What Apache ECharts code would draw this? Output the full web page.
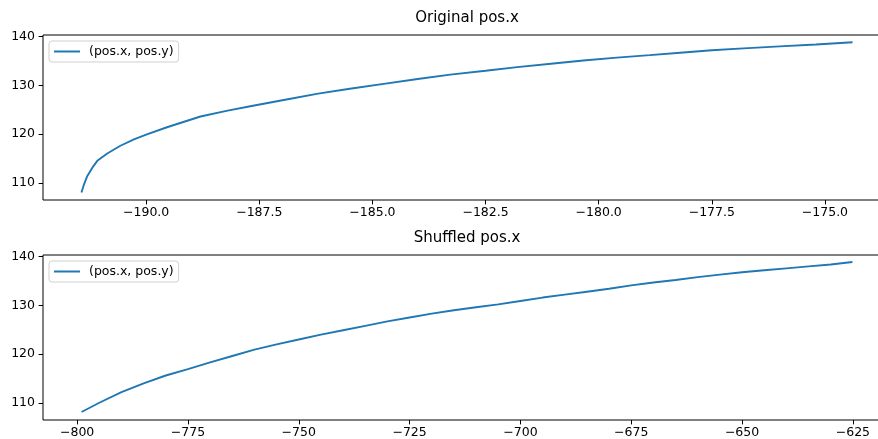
<!DOCTYPE html>
<html>
<head>
<meta charset="utf-8">
<script src="https://cdn.jsdelivr.net/npm/echarts@6/dist/echarts.min.js"></script>
<style>
  html, body { margin: 0; padding: 0; background: #fff; }
  #chart { width: 878px; height: 439px; }
</style>
</head>
<body>
<div id="chart"></div>
<script>
// data
var seriesName = '(pos.x, pos.y)';

var origX = [-191.43, -191.38, -191.30, -191.19, -191.08, -190.86, -190.57, -190.27, -190.0, -189.54,
             -188.80, -188.2, -187.7, -186.9, -186.2, -185.5, -184.75, -184.0, -183.28, -182.5,
             -181.8, -181.0, -180.34, -179.6, -178.87, -178.2, -177.5, -176.8, -176.0, -175.2, -174.39];
var origY = [108.0, 109.5, 111.4, 113.1, 114.5, 116.0, 117.6, 118.9, 119.9, 121.4,
             123.6, 124.8, 125.7, 127.1, 128.3, 129.3, 130.3, 131.3, 132.2, 133.0,
             133.75, 134.5, 135.1, 135.7, 136.2, 136.7, 137.2, 137.6, 138.0, 138.4, 138.85];

var shufX = [-799.0, -795, -790, -785, -780, -775, -770, -765, -760, -755, -750, -745, -740, -735,
             -730, -725, -720, -715, -710, -705, -700, -695, -690, -685, -680, -675, -670, -665,
             -660, -655, -650, -645, -640, -635, -630, -625.1];
var shufY = [108.1, 110.0, 112.2, 114.0, 115.6, 116.9, 118.3, 119.6, 120.9, 122.0, 123.0, 124.0, 124.9, 125.8,
             126.7, 127.5, 128.3, 129.0, 129.6, 130.2, 130.9, 131.6, 132.2, 132.8, 133.4, 134.1, 134.7, 135.2,
             135.8, 136.3, 136.8, 137.2, 137.6, 138.0, 138.4, 138.9];

var origTicks = [-190, -187.5, -185, -182.5, -180, -177.5, -175];
var shufTicks = [-800, -775, -750, -725, -700, -675, -650, -625];
var yTicks = [110, 120, 130, 140];

function pairs(xs, ys) {
  return xs.map(function (x, i) { return [x, ys[i]]; });
}
function minus(s) { return String(s).replace('-', '\u2212'); }

var font = 'DejaVu Sans';

function xAxis(idx, lo, hi, ticks, dec) {
  return {
    type: 'value', gridIndex: idx, min: lo, max: hi,
    axisLine: { show: false },
    splitLine: { show: false },
    axisTick: { show: true, customValues: ticks, length: 4.4, lineStyle: { color: '#000', width: 1 } },
    axisLabel: {
      customValues: ticks, margin: 6, color: '#000', fontSize: 12.5, fontFamily: font,
      formatter: function (v) { return minus(v.toFixed(dec)); }
    }
  };
}
function yAxis(idx) {
  return {
    type: 'value', gridIndex: idx, min: 106.46, max: 140.34,
    axisLine: { show: false },
    splitLine: { show: false },
    axisTick: { show: true, customValues: yTicks, length: 4.4, lineStyle: { color: '#000', width: 1 } },
    axisLabel: { customValues: yTicks, margin: 8, color: '#000', fontSize: 12.5, fontFamily: font }
  };
}
function legend(top) {
  return {
    data: [seriesName], left: 49, top: top, orient: 'vertical',
    icon: 'rect', itemWidth: 26, itemHeight: 2,
    padding: [4, 5, 4, 5],
    backgroundColor: 'rgba(255,255,255,0.8)',
    borderColor: '#d0d0d0', borderWidth: 1, borderRadius: 3,
    textStyle: { color: '#000', fontSize: 12.5, fontFamily: font, padding: [0, 0, 0, 4] },
    selectedMode: false
  };
}

var chart = echarts.init(document.getElementById('chart'));

var option = {
  animation: false,
  title: [
    { text: 'Original pos.x', left: 467, top: 11, textAlign: 'center', padding: 0,
      textStyle: { fontSize: 15, fontWeight: 'normal', color: '#000', fontFamily: font } },
    { text: 'Shuffled pos.x', left: 467, top: 231, textAlign: 'center', padding: 0,
      textStyle: { fontSize: 15, fontWeight: 'normal', color: '#000', fontFamily: font } }
  ],
  legend: [legend(41), legend(261)],
  grid: [
    { left: 43, top: 35, width: 848, height: 165, show: true, borderColor: '#000', borderWidth: 1,
      containLabel: false, outerBoundsMode: 'none' },
    { left: 43, top: 255, width: 848, height: 165, show: true, borderColor: '#000', borderWidth: 1,
      containLabel: false, outerBoundsMode: 'none' }
  ],
  xAxis: [
    xAxis(0, -192.28, -173.54, origTicks, 1),
    xAxis(1, -807.7, -616.4, shufTicks, 0)
  ],
  yAxis: [yAxis(0), yAxis(1)],
  series: [
    { name: seriesName, type: 'line', xAxisIndex: 0, yAxisIndex: 0, data: pairs(origX, origY),
      showSymbol: false, symbol: 'none', color: '#1f77b4',
      lineStyle: { width: 1.9, color: '#1f77b4' } },
    { name: seriesName, type: 'line', xAxisIndex: 1, yAxisIndex: 1, data: pairs(shufX, shufY),
      showSymbol: false, symbol: 'none', color: '#1f77b4',
      lineStyle: { width: 1.9, color: '#1f77b4' } }
  ]
};

chart.setOption(option);
</script>
</body>
</html>
